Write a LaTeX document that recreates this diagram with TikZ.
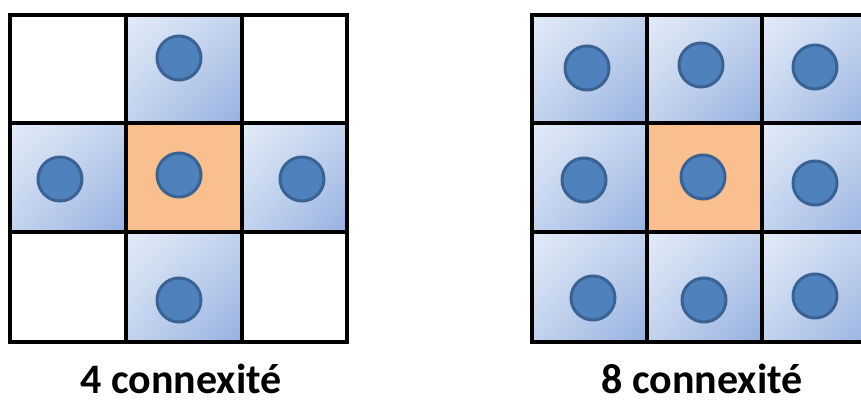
\documentclass[tikz,border=0pt]{standalone}
\usepackage{fontspec}
\setmainfont{Carlito}
\usetikzlibrary{shadings}
\begin{document}
\begin{tikzpicture}[x=1pt,y=-1pt,
  cellblue/.style={upper left=blueA, lower right=blueC, upper right=blueB, lower left=blueB},
  dot/.style={circle, fill=dotfill, draw=dotline, line width=3pt, minimum size=44pt, inner sep=0pt},
  gridline/.style={line width=4.5pt, line cap=rect},
  caption/.style={font=\bfseries\fontsize{42}{46}\selectfont, anchor=base, inner sep=0pt}]
\definecolor{blueA}{HTML}{E3EBF7}
\definecolor{blueB}{HTML}{C3D3EE}
\definecolor{blueC}{HTML}{96B0E0}
\definecolor{orangecell}{HTML}{F9BF8E}
\definecolor{dotfill}{HTML}{4F81BD}
\definecolor{dotline}{HTML}{3A6293}
\useasboundingbox (0,0) rectangle (861,404);
\fill[white] (0,0) rectangle (861,404);
\begin{scope}
\clip (0,0) rectangle (861,404);
% ---------- left grid (4-connectivity) ----------
\shade[cellblue] (126,15) rectangle (242,123);
\shade[cellblue] (10,123) rectangle (126,232);
\shade[cellblue] (242,123) rectangle (347,232);
\shade[cellblue] (126,232) rectangle (242,342);
\fill[orangecell] (126,123) rectangle (242,232);
\draw[gridline] (10,15) rectangle (347,342);
\draw[gridline] (126,15) -- (126,342);
\draw[gridline] (242,15) -- (242,342);
\draw[gridline] (10,123) -- (347,123);
\draw[gridline] (10,232) -- (347,232);
\node[dot] (l1) at (179,58) {};
\node[dot] (l2) at (60,179) {};
\node[dot] (l3) at (179,175) {};
\node[dot] (l4) at (302,179) {};
\node[dot] (l5) at (179,300) {};
% ---------- right grid (8-connectivity) ----------
\shade[cellblue] (532,15) rectangle (647,123);
\shade[cellblue] (647,15) rectangle (762,123);
\shade[cellblue] (762,15) rectangle (877,123);
\shade[cellblue] (532,123) rectangle (647,232);
\fill[orangecell] (647,123) rectangle (762,232);
\shade[cellblue] (762,123) rectangle (877,232);
\shade[cellblue] (532,232) rectangle (647,342);
\shade[cellblue] (647,232) rectangle (762,342);
\shade[cellblue] (762,232) rectangle (877,342);
\draw[gridline] (532,15) rectangle (877,342);
\draw[gridline] (647,15) -- (647,342);
\draw[gridline] (762,15) -- (762,342);
\draw[gridline] (532,123) -- (877,123);
\draw[gridline] (532,232) -- (877,232);
\node[dot] (r1) at (587,68) {};
\node[dot] (r2) at (701,65) {};
\node[dot] (r3) at (815,67) {};
\node[dot] (r4) at (584,180) {};
\node[dot] (r5) at (703,177) {};
\node[dot] (r6) at (815,183) {};
\node[dot] (r7) at (593,298) {};
\node[dot] (r8) at (704,300) {};
\node[dot] (r9) at (815,296) {};
\end{scope}
% ---------- captions ----------
\node[caption] (capL) at (181,393) {4 connexité};
\node[caption] (capR) at (702,393) {8 connexité};
\end{tikzpicture}
\end{document}
